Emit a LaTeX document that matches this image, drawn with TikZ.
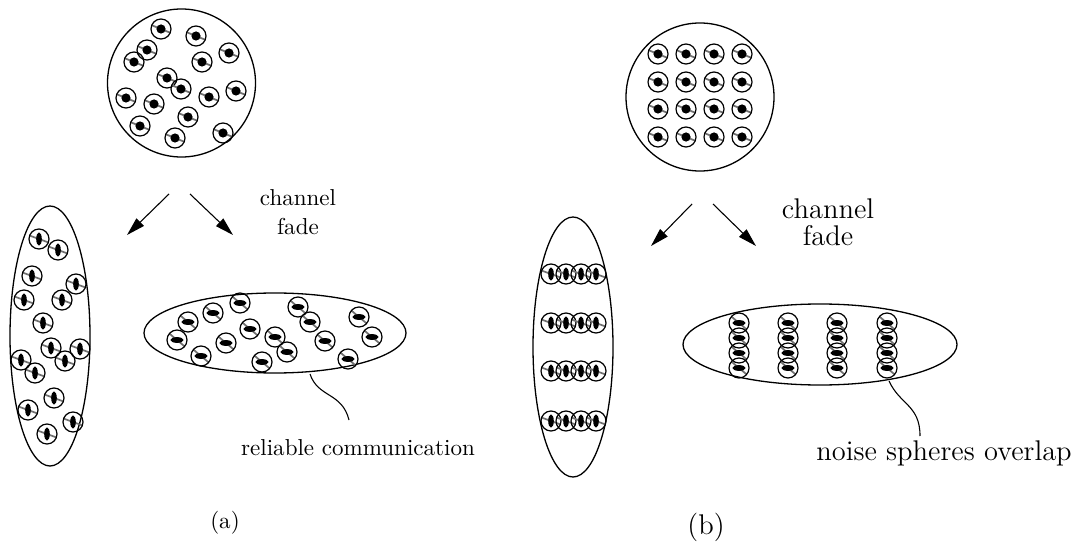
\documentclass[tikz,border=0pt]{standalone}
\usepackage{xcolor}
\usepackage{tikz}
\usetikzlibrary{arrows.meta}
\definecolor{hatchgray}{HTML}{707070}

\tikzset{
  outline/.style={draw=black, line width=0.6pt},
  hatch/.style={draw=hatchgray, line width=0.8pt},
  fadearrow/.style={-{Triangle[length=8.5pt, width=4.8pt]}, line width=0.5pt},
  spot/.pic={
    \draw[hatch] (22:10) -- (202:10);
    \fill (0,0) circle[radius=4.6];
    \draw[line width=0.55pt] (0,0) circle[radius=10];
  },
  vspot/.pic={
    \draw[hatch] (20:10) -- (200:10);
    \fill (0,0) ellipse[x radius=2.8, y radius=6.6];
    \draw[line width=0.55pt] (0,0) circle[radius=10];
  },
  hspot/.pic={
    \draw[hatch] (40:10) -- (220:10);
    \fill (0,0) ellipse[x radius=6.6, y radius=2.9];
    \draw[line width=0.55pt] (0,0) circle[radius=10];
  }
}

\begin{document}
\begin{tikzpicture}[x=0.46pt, y=-0.46pt]
  \useasboundingbox (0,0) rectangle (1079,554);

  % (a) random code book
  \draw[outline] (181.5,83) circle[radius=74];
  \foreach \px/\py in {161/29, 196/36, 147/50, 134/62, 229/53, 202/62,
      167/78, 181/89, 126/98, 154/104, 209/97, 236/91, 140/126, 188/117,
      175/138, 223/133}
    \path (\px,\py) pic {spot};

  \coordinate (a-src-l) at (169,194);
  \coordinate (a-dst-l) at (127,235);
  \coordinate (a-src-r) at (190,194);
  \coordinate (a-dst-r) at (233,235);
  \draw[fadearrow] (a-src-l) -- (a-dst-l);
  \draw[fadearrow] (a-src-r) -- (a-dst-r);
  \node[align=center, font=\fontsize{10.6}{13.3}\selectfont] (a-fade) at (298,212) {channel\\fade};

  \draw[outline] (50,336) ellipse[x radius=40, y radius=130];
  \foreach \px/\py in {39/239, 58/250, 32/276, 76/284, 24/300, 62/300,
      43/323, 51/348, 80/349, 65/361, 21/360, 35/373, 54/398, 28/410,
      73/422, 47/434}
    \path (\px,\py) pic {vspot};

  \draw[outline] (275,333) ellipse[x radius=131, y radius=40];
  \foreach \px/\py in {240/303, 188/322, 213/313, 177/340, 201/356,
      226/343, 250/329, 275/337, 298/307, 310/322, 359/317, 372/337,
      325/341, 287/352, 262/362, 348/359}
    \path (\px,\py) pic {hspot};

  \coordinate (a-tag-start) at (310,374);
  \node[anchor=base, font=\fontsize{10.6}{13}\selectfont] (a-tag) at (358,455) {reliable communication};
  \coordinate (a-tag-end) at (349,420);
  \draw[line width=0.5pt] (a-tag-start) .. controls (318,398) and (342,392) .. (a-tag-end);

  \node[font=\fontsize{10.6}{13}\selectfont] (a-label) at (225,523) {(a)};

  % (b) lattice code book
  \draw[outline] (700,97) circle[radius=74];
  \foreach \px in {658,686,714,742}
    \foreach \py in {54,82,109,137}
      \path (\px,\py) pic {spot};

  \coordinate (b-src-l) at (692,204);
  \coordinate (b-dst-l) at (651,246);
  \coordinate (b-src-r) at (713,204);
  \coordinate (b-dst-r) at (756,246);
  \draw[fadearrow] (b-src-l) -- (b-dst-l);
  \draw[fadearrow] (b-src-r) -- (b-dst-r);
  \node[align=center, font=\fontsize{13.1}{12.4}\selectfont] (b-fade) at (828,222) {channel\\fade};

  \draw[outline] (573,347) ellipse[x radius=40, y radius=130];
  \foreach \px in {551,566,581,596}
    \foreach \py in {274,323,371,421}
      \path (\px,\py) pic {vspot};

  \draw[outline] (820,344.5) ellipse[x radius=137, y radius=40.5];
  \foreach \px in {739,788,837,887}
    \foreach \py in {323,338,353,368}
      \path (\px,\py) pic {hspot};

  \coordinate (b-tag-start) at (889,381);
  \node[anchor=base, font=\fontsize{13.1}{15}\selectfont] (b-tag) at (944,460) {noise spheres overlap};
  \coordinate (b-tag-end) at (920,436);
  \draw[line width=0.5pt] (b-tag-start) .. controls (900,405) and (920,405) .. (b-tag-end);

  \node[font=\fontsize{13.1}{15}\selectfont] (b-label) at (706,527) {(b)};
\end{tikzpicture}
\end{document}
